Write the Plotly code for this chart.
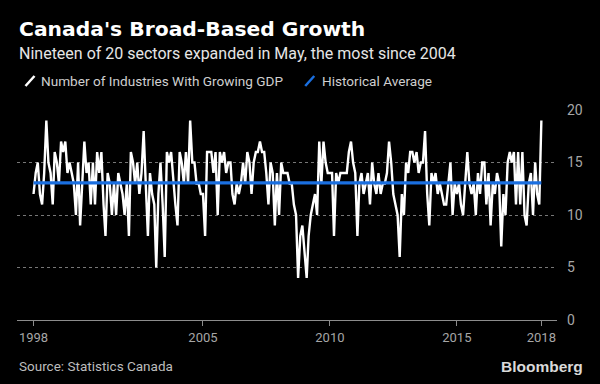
import pandas as pd
import plotly.graph_objects as go

# Monthly number of industries (of 20) with growing GDP, May 1998 - May 2018
growing_industries = [
    12, 14, 15, 12, 11, 14, 19, 15, 14, 11,
    16, 15, 13, 17, 16, 17, 14, 15, 14, 13,
    10, 15, 9, 13, 17, 14, 15, 11, 15, 11,
    16, 14, 16, 11, 8, 14, 13, 10, 13, 10,
    14, 13, 12, 10, 13, 8, 16, 15, 13, 15,
    12, 14, 18, 13, 8, 14, 12, 11, 5, 12,
    15, 11, 6, 16, 15, 16, 13, 11, 9, 16,
    15, 13, 16, 13, 19, 15, 15, 13, 13, 12,
    12, 8, 16, 16, 16, 14, 16, 10, 16, 15,
    16, 14, 15, 15, 12, 11, 13, 12, 13, 15,
    13, 16, 15, 12, 15, 16, 16, 17, 16, 16,
    14, 11, 15, 14, 9, 14, 10, 15, 14, 14,
    14, 13, 13, 11, 10, 4, 8, 9, 6, 4,
    8, 10, 11, 12, 10, 17, 13, 17, 15, 14,
    14, 14, 8, 14, 13, 14, 14, 14, 14, 16,
    17, 15, 14, 8, 13, 14, 12, 13, 14, 11,
    15, 13, 12, 14, 12, 13, 13, 14, 17, 15,
    12, 11, 10, 6, 12, 10, 15, 14, 16, 16,
    15, 16, 14, 15, 15, 18, 12, 9, 14, 13,
    14, 12, 13, 12, 11, 11, 13, 15, 10, 13,
    12, 13, 11, 10, 13, 16, 13, 12, 13, 10,
    14, 12, 15, 15, 11, 14, 9, 13, 12, 14,
    13, 7, 12, 10, 15, 16, 15, 16, 11, 16,
    11, 16, 10, 9, 13, 14, 10, 15, 12, 11, 19,
]
start_month = "1998-05-01"
historical_average = 13.05

tick_dates = ["1998-05-01", "2005-01-01", "2010-01-01", "2015-01-01", "2018-05-01"]
tick_labels = ["1998", "2005", "2010", "2015", "2018"]
y_ticks = [0, 5, 10, 15, 20]

series_name = "Number of Industries With Growing GDP"
avg_name = "Historical Average"

dates = pd.date_range(start_month, periods=len(growing_industries), freq="MS")

WHITE = "#ffffff"
BLUE = "#1a6fe0"
GRAY = "#a6a6a6"
FONT = "Roboto"

fig = go.Figure()
fig.add_trace(go.Scatter(
    x=dates, y=growing_industries, mode="lines",
    line=dict(color=WHITE, width=2.4), name=series_name,
    hoverinfo="skip",
))
fig.add_trace(go.Scatter(
    x=[dates[0], dates[-1]], y=[historical_average, historical_average],
    mode="lines", line=dict(color=BLUE, width=3.2), name=avg_name,
    hoverinfo="skip",
))

L, R, T, B = 16.5, 43, 110, 64
W, H = 600, 384
pw = W - L - R
ph = H - T - B


def px(x):
    return (x - L) / pw


def py(y):
    return (H - B - y) / ph


annotations = [
    dict(text="<b>Canada's Broad-Based Growth</b>", x=px(16), y=py(29),
         font=dict(family="DejaVu Sans", size=20.3, color=WHITE)),
    dict(text="Nineteen of 20 sectors expanded in May, the most since 2004",
         x=px(16), y=py(53.5), font=dict(family=FONT, size=16, color="#e6e6e6")),
    dict(text=series_name, x=px(39), y=py(80.5),
         font=dict(family=FONT, size=13.6, color="#cfcfcf")),
    dict(text=avg_name, x=px(320), y=py(80.5),
         font=dict(family=FONT, size=13.6, color="#cfcfcf")),
    dict(text="Source: Statistics Canada", x=px(16), y=py(366),
         font=dict(family=FONT, size=13.5, color="#bdbdbd")),
]
for a in annotations:
    a.update(xref="paper", yref="paper", xanchor="left", yanchor="middle",
             showarrow=False)
annotations.append(dict(
    text="<b>Bloomberg</b>", x=px(585), y=py(366), xref="paper", yref="paper",
    xanchor="right", yanchor="middle", showarrow=False,
    font=dict(family="Liberation Sans", size=15.5, color="#d9d9d9"),
))

shapes = [
    dict(type="line", xref="paper", yref="paper",
         x0=px(25), y0=py(86), x1=px(34), y1=py(76),
         line=dict(color=WHITE, width=2.5)),
    dict(type="line", xref="paper", yref="paper",
         x0=px(305), y0=py(86), x1=px(314), y1=py(76),
         line=dict(color=BLUE, width=2.5)),
]

fig.update_layout(
    width=W, height=H,
    margin=dict(l=L, r=R, t=T, b=B, pad=0),
    paper_bgcolor="#000000", plot_bgcolor="#000000",
    showlegend=False,
    annotations=annotations, shapes=shapes,
    xaxis=dict(
        range=["1997-09-05", "2018-12-12"],
        tickvals=tick_dates, ticktext=tick_labels,
        showgrid=False, zeroline=False,
        showline=True, linecolor="#8c8c8c", linewidth=1,
        ticks="outside", ticklen=5, tickcolor="#8c8c8c",
        tickfont=dict(family=FONT, size=13, color=GRAY),
    ),
    yaxis=dict(
        range=[0, 20], side="right", tickvals=y_ticks,
        showgrid=True, gridcolor="#777777", griddash="dot", gridwidth=1,
        zeroline=False, showline=False, ticks="",
        ticklabelstandoff=9,
        tickfont=dict(family=FONT, size=14, color=GRAY),
    ),
)

fig.write_html(
    "out.html",
    config={"displayModeBar": False},
    post_script="document.body.style.margin='0';document.body.style.overflow='hidden';",
)
